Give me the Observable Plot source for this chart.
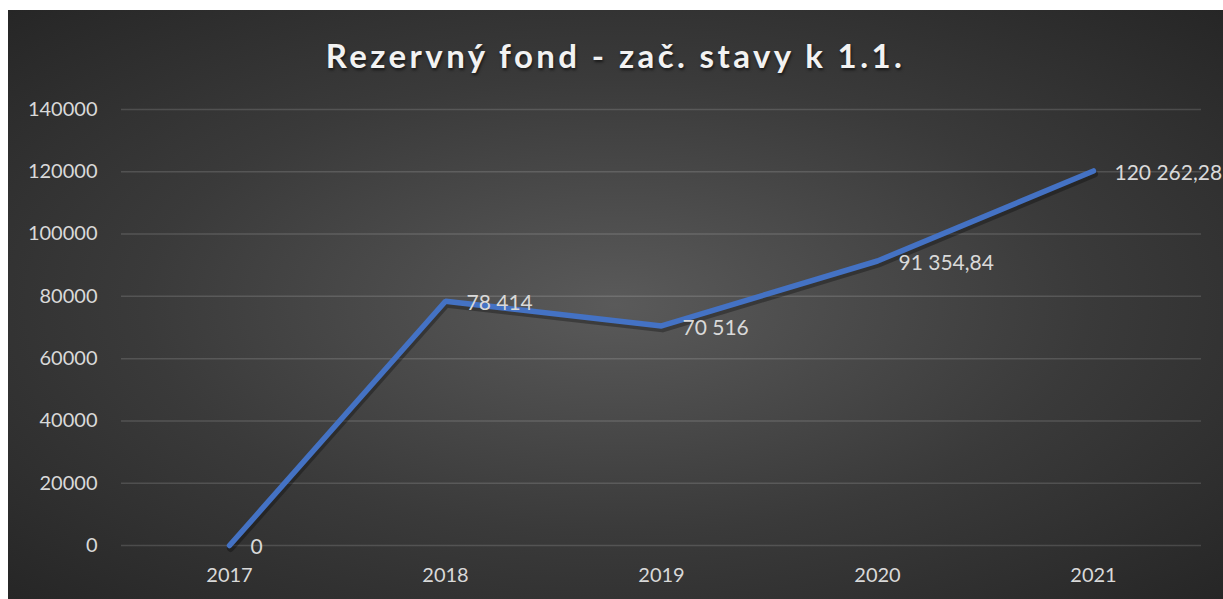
<!DOCTYPE html>
<html><head><meta charset="utf-8">
<script src="https://cdn.jsdelivr.net/npm/d3@7"></script>
<script src="https://cdn.jsdelivr.net/npm/@observablehq/plot@0.6"></script>
<style>
html,body{margin:0;padding:0;background:#fff;}
#wrap{position:absolute;left:8px;top:10px;width:1215px;height:589px;overflow:hidden;
 background:radial-gradient(ellipse farthest-corner at 50% 50%, #5a5a5a 0%, #3a3a3a 55%, #262626 100%);}
#title{position:absolute;left:0;top:25px;width:1215px;text-align:center;font-family:Lato,sans-serif;font-weight:bold;
 font-size:33px;letter-spacing:3.4px;color:#f2f2f2;text-shadow:1px 2px 3px rgba(0,0,0,0.6);}
#chart{position:absolute;left:0;top:0;}
</style></head>
<body><div id="wrap"><div id="chart"></div><div id="title">Rezervný fond - zač. stavy k 1.1.</div></div>
<script>
const years = ["2017","2018","2019","2020","2021"];
const values = [0, 78414, 70516, 91354.84, 120262.28];
const labels = ["0","78 414","70 516","91 354,84","120 262,28"];
const yTicks = [0,20000,40000,60000,80000,100000,120000,140000];

const data = years.map((y,i)=>({year:y, value:values[i], label:labels[i]}));

const chart = Plot.plot({
  width:1215, height:589,
  marginLeft:113, marginRight:22, marginTop:99, marginBottom:54,
  style:{background:"transparent", fontFamily:"Lato, sans-serif", overflow:"visible"},
  x:{type:"band", domain:years, padding:0, label:null},
  y:{domain:[0,140000], label:null},
  marks:[
    Plot.gridY(yTicks, {stroke:"#ffffff", strokeOpacity:0.14, strokeWidth:1.5}),
    Plot.axisY({ticks:yTicks, tickSize:0, tickPadding:24, tickFormat:d=>String(d), fill:"#d9d9d9", fontSize:20, label:null}),
    Plot.axisX({tickSize:0, tickPadding:22, fill:"#d9d9d9", fontSize:20, label:null}),
    Plot.line(data, {x:"year", y:"value", stroke:"#000", strokeOpacity:0.3, strokeWidth:7, dx:1, dy:3, strokeLinejoin:"round", strokeLinecap:"round"}),
    Plot.line(data, {x:"year", y:"value", stroke:"#4472C4", strokeWidth:5.5, strokeLinejoin:"miter", strokeLinecap:"round"}),
    Plot.text(data, {x:"year", y:"value", text:"label", dx:21, dy:2, textAnchor:"start", fill:"#d9d9d9", fontSize:21})
  ]
});
document.getElementById("chart").appendChild(chart);
</script></body></html>
